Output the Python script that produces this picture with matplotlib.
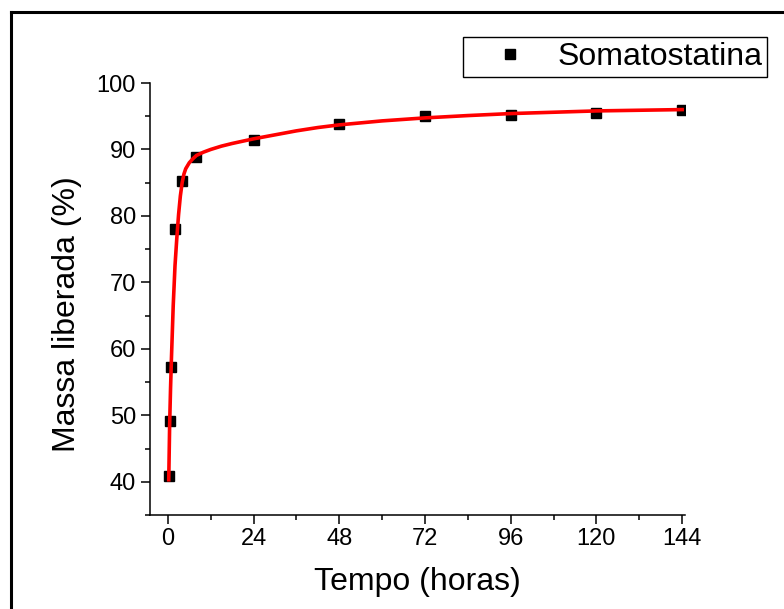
import numpy as np
import matplotlib.pyplot as plt
from matplotlib.lines import Line2D
from matplotlib.ticker import MultipleLocator

plt.rcParams['font.family'] = ['Liberation Sans', 'DejaVu Sans']

# pontos experimentais
tempo = [0.25, 0.5, 1, 2, 4, 8, 24, 48, 72, 96, 120, 144]
massa = [40.9, 49.1, 57.3, 78.0, 85.3, 88.9, 91.4, 93.8, 95.0, 95.2, 95.5, 96.0]

# curva ajustada
t_fit = [0.25, 0.5, 0.75, 1, 1.5, 2, 2.5, 3, 3.5, 4, 4.5, 5, 6, 7, 8, 10, 12, 15,
         18, 24, 30, 36, 42, 48, 60, 72, 84, 96, 108, 120, 132, 144]
y_fit = [40.3, 48.6, 54.0, 58.5, 66.5, 72.5, 76.6, 80.2, 83.0, 85.0, 86.3, 87.1,
         88.0, 88.6, 89.1, 89.6, 90.0, 90.5, 90.9, 91.6, 92.2, 92.8, 93.3, 93.7,
         94.3, 94.75, 95.1, 95.4, 95.6, 95.8, 95.9, 96.0]

fig = plt.figure(figsize=(7.84, 6.09), dpi=100)
ax = fig.add_axes([150/784, 1-515/609, 535/784, 432/609])

ax.plot(tempo, massa, 's', color='black', markersize=6.5, label='Somatostatina', zorder=2)
ax.plot(t_fit, y_fit, '-', color='red', linewidth=2.6, zorder=3)

ax.set_xlim(-5, 144.8)
ax.set_ylim(35, 100)
ax.set_xticks([0, 24, 48, 72, 96, 120, 144])
ax.xaxis.set_minor_locator(MultipleLocator(12))
ax.set_yticks([40, 50, 60, 70, 80, 90, 100])
ax.yaxis.set_minor_locator(MultipleLocator(5))

for s in ['top', 'right']:
    ax.spines[s].set_visible(False)
for s in ['left', 'bottom']:
    ax.spines[s].set_linewidth(1.1)

ax.tick_params(which='major', direction='out', length=6.5, width=1.1, labelsize=17)
ax.tick_params(which='minor', direction='out', length=3.5, width=1.1)
ax.tick_params(axis='x', which='major', pad=3)
ax.tick_params(axis='y', which='major', pad=3.5)

ax.set_xlabel('Tempo (horas)', fontsize=23)
ax.set_ylabel('Massa liberada (%)', fontsize=23)
ax.xaxis.set_label_coords(0.5, -0.120)
ax.yaxis.set_label_coords(-0.127, 0.465)

leg = fig.legend(loc='upper right', bbox_to_anchor=(767/784, 1-37/609),
                 bbox_transform=fig.transFigure, fontsize=23, frameon=True,
                 fancybox=False, framealpha=1, edgecolor='black', borderpad=0.15,
                 borderaxespad=0, handlelength=2.64, handletextpad=0.15, numpoints=1)
leg.get_frame().set_linewidth(1.0)

# moldura externa
fig.add_artist(Line2D([10.5/784, 10.5/784], [0, 1-12/609], color='black',
                      linewidth=2.2, transform=fig.transFigure))
fig.add_artist(Line2D([10.5/784, 1], [1-12/609, 1-12/609], color='black',
                      linewidth=2.2, transform=fig.transFigure))

fig.savefig('out.png', dpi=100)
